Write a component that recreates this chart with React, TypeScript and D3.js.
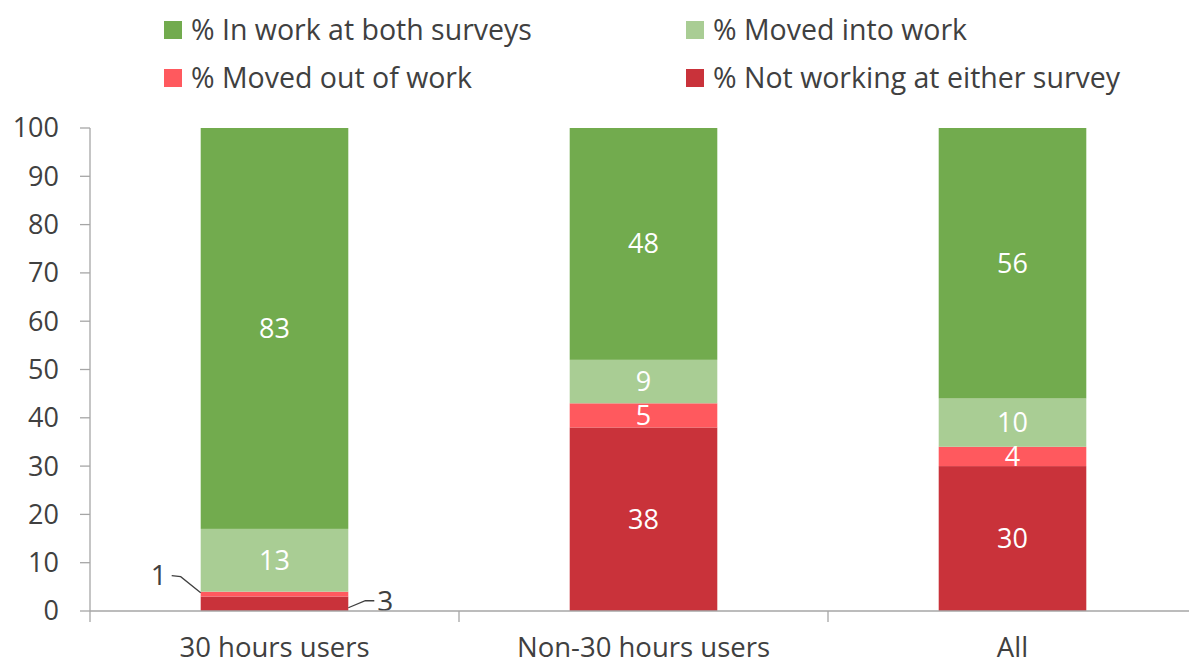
import React from 'react';
import * as d3 from 'd3';

const categories = ['30 hours users', 'Non-30 hours users', 'All'];
const seriesNames = [
  '% Not working at either survey',
  '% Moved out of work',
  '% Moved into work',
  '% In work at both surveys',
];
const notWorking = [3, 38, 30];
const movedOut = [1, 5, 4];
const movedInto = [13, 9, 10];
const inWorkBoth = [83, 48, 56];
const seriesColors = ['#C9323A', '#FF595E', '#A9CD94', '#72AB4E'];
const yTicks = [0, 10, 20, 30, 40, 50, 60, 70, 80, 90, 100];

// legend order as drawn: row 1 then row 2
const legendOrder = [3, 2, 1, 0];

const W = 1189;
const H = 666;
const margin = { top: 128, right: -8, bottom: 55, left: 90 };
const FONT = '"Open Sans", "Noto Sans", sans-serif';
const TEXT = '#404040';
const AXIS = '#A6A6A6';

export default function App() {
  const innerW = W - margin.left - margin.right;
  const innerH = H - margin.top - margin.bottom;

  const x = d3.scaleBand<string>().domain(categories).range([0, innerW]).paddingInner(0.6).paddingOuter(0.3);
  const y = d3.scaleLinear().domain([0, 100]).range([innerH, 0]);

  const rows = categories.map((c, i) => ({
    cat: c,
    s0: notWorking[i],
    s1: movedOut[i],
    s2: movedInto[i],
    s3: inWorkBoth[i],
  }));
  const stack = d3.stack<any>().keys(['s0', 's1', 's2', 's3']);
  const layers = stack(rows);

  const step = innerW / categories.length;
  const bw = x.bandwidth();

  return (
    <svg width={W} height={H} style={{ position: 'absolute', left: 0, top: 0 }}>
      {/* legend */}
      {legendOrder.map((si, k) => {
        const col = k % 2;
        const row = Math.floor(k / 2);
        const lx = col === 0 ? 164 : 686;
        const ly = 30 + row * 48;
        return (
          <g key={si} transform={`translate(${lx},${ly})`}>
            <rect x={0} y={-9} width={18} height={18} fill={seriesColors[si]} />
            <text x={27} y={0} dy="0.35em" fontFamily={FONT} fontSize={28.5} fill={TEXT}>
              {seriesNames[si]}
            </text>
          </g>
        );
      })}

      <g transform={`translate(${margin.left},${margin.top})`}>
        {/* bars */}
        {layers.map((layer, li) =>
          layer.map((d, i) => {
            const x0 = x(categories[i])!;
            return (
              <rect
                key={`${li}-${i}`}
                x={x0}
                y={y(d[1])}
                width={bw}
                height={y(d[0]) - y(d[1])}
                fill={seriesColors[li]}
              />
            );
          })
        )}

        {/* in-bar labels */}
        {layers.map((layer, li) =>
          layer.map((d, i) => {
            const v = d[1] - d[0];
            if (v < 4 && i === 0) return null;
            return (
              <text
                key={`l${li}-${i}`}
                x={x(categories[i])! + bw / 2}
                y={y((d[0] + d[1]) / 2)}
                dy="0.35em"
                textAnchor="middle"
                fontFamily={FONT}
                fontSize={27}
                fill="#fff"
              >
                {v}
              </text>
            );
          })
        )}

        {/* outside labels for the tiny segments of the first bar */}
        {(() => {
          const bx = x(categories[0])!;
          const outTop = y(notWorking[0] + movedOut[0]);
          const nwMid = y(notWorking[0] / 2);
          return (
            <g fontFamily={FONT} fontSize={28} fill={TEXT}>
              <polyline
                points={`${bx},${outTop + 1} ${bx - 20},${outTop - 15} ${bx - 29},${outTop - 16}`}
                fill="none"
                stroke={TEXT}
                strokeWidth={1.3}
              />
              <text x={bx - 34} y={outTop - 16} dy="0.35em" textAnchor="end">
                {movedOut[0]}
              </text>
              <polyline
                points={`${bx + bw},${nwMid + 4} ${bx + bw + 17},${nwMid - 3} ${bx + bw + 26},${nwMid - 3}`}
                fill="none"
                stroke={TEXT}
                strokeWidth={1.3}
              />
              <text x={bx + bw + 29} y={nwMid - 3} dy="0.35em" textAnchor="start">
                {notWorking[0]}
              </text>
            </g>
          );
        })()}

        {/* y axis */}
        <line x1={0} x2={0} y1={0} y2={innerH + 11} stroke={AXIS} strokeWidth={1.3} />
        {yTicks.map((t) => (
          <g key={t} transform={`translate(0,${y(t)})`}>
            <line x1={-10} x2={0} stroke={AXIS} strokeWidth={1.3} />
            <text x={-31} dy="0.35em" textAnchor="end" fontFamily={FONT} fontSize={27} fill={TEXT}>
              {t}
            </text>
          </g>
        ))}

        {/* x axis */}
        <line x1={0} x2={innerW} y1={innerH} y2={innerH} stroke={AXIS} strokeWidth={1.3} />
        {categories.map((c, i) => (
          <g key={c}>
            <line x1={step * (i + 1)} x2={step * (i + 1)} y1={innerH} y2={innerH + 11} stroke={AXIS} strokeWidth={1.3} />
            <text
              x={x(c)! + bw / 2}
              y={innerH + 46}
              textAnchor="middle"
              fontFamily={FONT}
              fontSize={27.5}
              fill={TEXT}
            >
              {c}
            </text>
          </g>
        ))}
      </g>
    </svg>
  );
}
